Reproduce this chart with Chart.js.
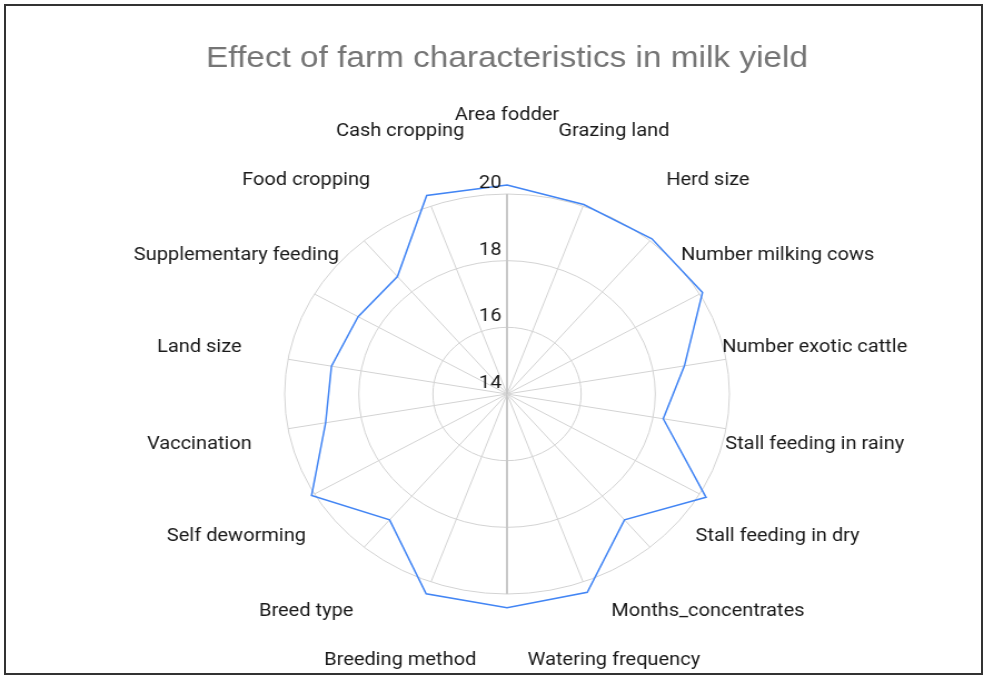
<!DOCTYPE html>
<html>
<head>
<meta charset="utf-8">
<script src="https://cdn.jsdelivr.net/npm/chart.js@4.4.1/dist/chart.umd.min.js"></script>
<style>
  html, body { margin: 0; padding: 0; background: #fff; overflow: hidden; }
  #wrap { position: absolute; left: 0; top: 0; width: 885px; height: 675px; transform: scaleX(1.1119); transform-origin: 0 0; }
  #frame { position: absolute; left: 4px; top: 4px; width: 979px; height: 671px; box-sizing: border-box; border: 2px solid #333; pointer-events: none; }
</style>
</head>
<body>
<div id="wrap"><canvas id="myChartRadar"></canvas></div>
<div id="frame"></div>
<script>
// categories clockwise from the top, the one at the bottom has no visible label
const categories = ["Area fodder", "Grazing land", "Herd size", "Number milking cows", "Number exotic cattle",
  "Stall feeding in rainy", "Stall feeding in dry", "Months_concentrates", "Watering frequency", "",
  "Breeding method", "Breed type", "Self deworming", "Vaccination", "Land size",
  "Supplementary feeding", "Food cropping", "Cash cropping"];
const milkYield = [20.27, 20.05, 20.08, 20.09, 18.86, 18.28, 20.2, 18.93, 20.33, 20.41,
  20.38, 18.93, 20.09, 18.97, 18.81, 18.64, 18.6, 20.34];
const tickValues = [14, 16, 18, 20];

// labels centred on a ring outside the grid, ticks to the left of the axis
const radarText = {
  id: 'radarText',
  afterDraw(chart) {
    const scale = chart.scales.r;
    const ctx = chart.ctx;
    ctx.save();
    ctx.font = '18px Roboto';
    ctx.fillStyle = '#1a1a1a';
    ctx.textAlign = 'center';
    ctx.textBaseline = 'middle';
    categories.forEach((name, i) => {
      const p = scale.getPointPosition(i, scale.drawingArea * 1.405);
      ctx.fillText(name, p.x, p.y + 2);
    });
    ctx.textAlign = 'right';
    ctx.textBaseline = 'alphabetic';
    tickValues.forEach(v => {
      const d = scale.getDistanceFromCenterForValue(v);
      ctx.fillText(String(v), scale.xCenter - 5, scale.yCenter - d - 6);
    });
    ctx.restore();
  }
};

var ctx = document.getElementById('myChartRadar').getContext('2d');

grafico = new Chart(ctx, {
  type: 'radar',
  data: {
    labels: categories,
    datasets: [{
      data: milkYield,
      label: "Milk yield",
      borderColor: "#4285f4",
      backgroundColor: "rgba(0,0,0,0)",
      borderWidth: 1.5,
      pointRadius: 0,
      fill: false,
      clip: false
    }]
  },
  options: {
    responsive: true,
    maintainAspectRatio: false,
    animation: false,
    layout: { padding: { left: 56, right: 29, top: 0, bottom: 81 } },
    plugins: {
      legend: { display: false },
      tooltip: { enabled: false },
      title: {
        display: true,
        text: "Effect of farm characteristics in milk yield",
        color: "#757575",
        font: { family: "'Liberation Sans', Arial, sans-serif", size: 30, weight: 'normal' },
        padding: { top: 41, bottom: 117 }
      }
    },
    scales: {
      r: {
        min: 14,
        max: 20,
        ticks: { stepSize: 2, display: false },
        pointLabels: { display: false },
        grid: { circular: true, color: "#d3d3d3", lineWidth: 1 },
        angleLines: {
          color: c => (c.index === 0 || c.index === 9) ? "#c8c8c8" : "#d3d3d3",
          lineWidth: c => (c.index === 0 || c.index === 9) ? 2 : 1
        }
      }
    }
  },
  plugins: [radarText]
});
</script>
</body>
</html>
